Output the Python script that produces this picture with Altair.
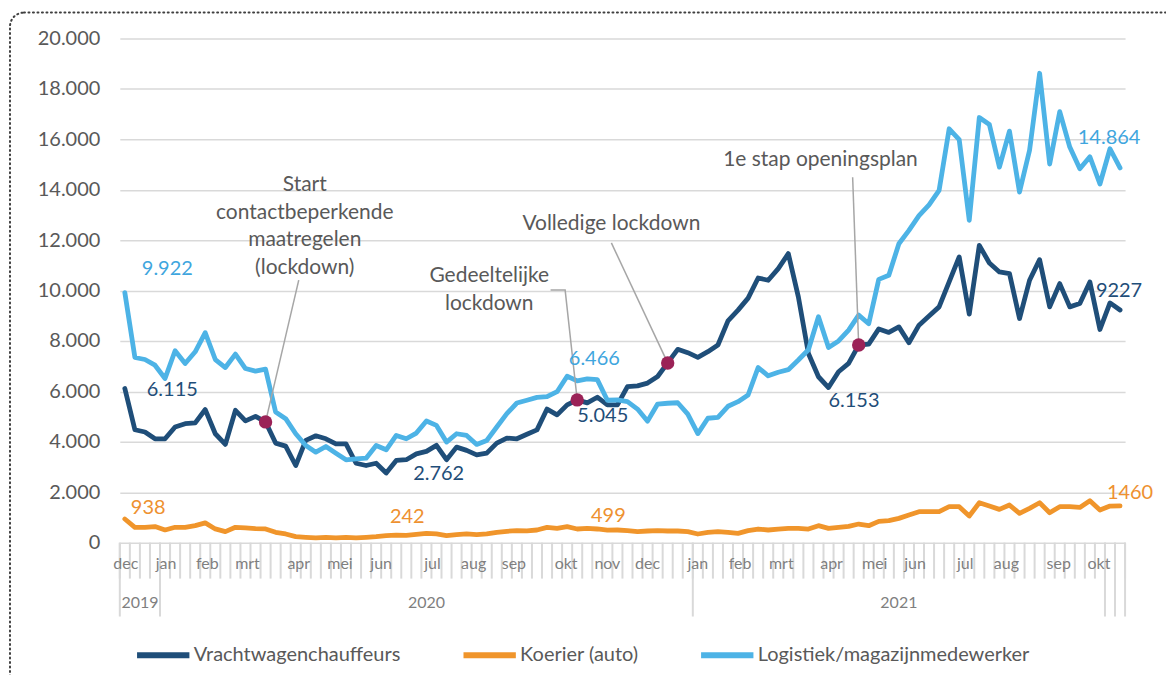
import altair as alt
import pandas as pd

# ---------------- data ----------------
N = 100
WEEK = list(range(N))
SERIES = ["Vrachtwagenchauffeurs", "Koerier (auto)", "Logistiek/magazijnmedewerker"]
COLORS = ["#1F4E79", "#F0952B", "#4DB3E6"]

VRACHT = [6115, 4480, 4390, 4120, 4120, 4590, 4720, 4750, 5280, 4320,
          3900, 5250, 4830, 5010, 4790, 3950, 3830, 3060, 4060, 4240,
          4120, 3920, 3920, 3150, 3060, 3150, 2762, 3260, 3290, 3520,
          3620, 3860, 3290, 3790, 3660, 3480, 3550, 3950, 4150, 4120,
          4300, 4475, 5300, 5069, 5465, 5663, 5544, 5770, 5465, 5465,
          6190, 6220, 6330, 6590, 7130, 7670, 7536, 7353, 7576, 7841,
          8800, 9225, 9700, 10500, 10410, 10870, 11466, 9750, 7506, 6582,
          6153, 6780, 7110, 7840, 7875, 8480, 8340, 8560, 7930, 8628,
          8990, 9354, 10344, 11334, 9064, 11796, 11096, 10740, 10674, 8892,
          10410, 11228, 9354, 10278, 9354, 9486, 10344, 8456, 9512, 9227]

KOERIER = [938, 610, 610, 637, 504, 610, 610, 677, 783, 544,
           438, 610, 584, 557, 544, 411, 345, 239, 212, 186,
           212, 186, 212, 186, 212, 239, 279, 300, 290, 330,
           372, 345, 279, 318, 345, 318, 345, 411, 451, 478,
           470, 502, 608, 568, 634, 542, 568, 542, 499, 502,
           475, 436, 462, 475, 462, 462, 436, 343, 409, 436,
           409, 370, 475, 541, 502, 541, 568, 568, 541, 673,
           568, 607, 647, 739, 673, 845, 871, 964, 1096, 1228,
           1228, 1228, 1426, 1426, 1056, 1584, 1452, 1320, 1492, 1162,
           1360, 1584, 1188, 1426, 1426, 1399, 1663, 1294, 1452, 1460]

LOGISTIEK = [9922, 7346, 7266, 7040, 6510, 7611, 7107, 7572, 8328, 7266,
             6948, 7479, 6908, 6802, 6882, 5183, 4918, 4320, 3856, 3590,
             3816, 3551, 3285, 3325, 3352, 3856, 3684, 4254, 4121, 4347,
             4825, 4652, 3989, 4320, 4254, 3896, 4055, 4586, 5117, 5541,
             5650, 5765, 5791, 5989, 6600, 6420, 6500, 6466, 5650, 5660,
             5595, 5300, 4820, 5500, 5530, 5550, 5100, 4327, 4935, 4968,
             5410, 5594, 5858, 6947, 6618, 6762, 6862, 7245, 7654, 8960,
             7740, 8004, 8433, 9027, 8684, 10446, 10608, 11860, 12390, 12970,
             13400, 13976, 16419, 15990, 12788, 16866, 16590, 14899, 16325, 13910,
             15570, 18622, 15020, 17098, 15692, 14835, 15310, 14228, 15627, 14864]

Y_TICKS = list(range(0, 20001, 2000))

MONTHS = ["dec", "jan", "feb", "mrt", "apr", "mei", "jun", "jul", "aug", "sep", "okt", "nov",
          "dec", "jan", "feb", "mrt", "apr", "mei", "jun", "jul", "aug", "sep", "okt"]
MONTH_WEEK = [0.1, 4.1, 8.2, 12.2, 17.3, 21.4, 25.5, 30.6, 34.7, 38.7, 43.9, 48,
              52, 57, 61.2, 65.3, 70.3, 74.6, 78.6, 83.6, 87.7, 92.9, 96.9]
YEARS = ["2019", "2020", "2021"]
YEAR_CENTER = [1.5, 30, 77]
YEAR_BOUNDS = [-0.5, 3.5, 56.5, 97.5, 98.5, 99.5]

MARKER_WEEKS = [14, 45, 54, 73]
ANNOT_TEXT = ["Start\ncontactbeperkende\nmaatregelen\n(lockdown)",
              "Gedeeltelijke\nlockdown", "Volledige lockdown", "1e stap openingsplan"]
ANNOT_WEEK = [17.9, 36.25, 48.4, 69.2]
ANNOT_VALUE = [14177, 10573, 12632, 15167]   # centre of the first text line
LEADER_ID = [0, 1, 1, 2, 3]
LEADER_WEEK = [17.3, 42.35, 43.8, 48.4, 72.4]
LEADER_VALUE = [10415, 10020, 10020, 11892, 14494]

# ---------------- helpers ----------------
W, H = 1007, 505
FONT = "Lato"
GREY = "#595959"
xs = alt.Scale(domain=[-0.5, N - 0.5], nice=False, zero=False)
ys = alt.Scale(domain=[0, 20000], nice=False)

YAXIS = dict(values=Y_TICKS, labelExpr="replace(format(datum.value, ','), ',', '.')",
             grid=True, gridColor="#D9D9D9", gridWidth=1.5, domain=False, ticks=False,
             labelFontSize=20, labelFont=FONT, labelColor=GREY, labelPadding=20, title=None)


def X(field):
    return alt.X(field, scale=xs, axis=None)


def Y(field):
    return alt.Y(field, scale=ys, axis=alt.Axis(**YAXIS))


long_df = pd.DataFrame({
    "week": WEEK * 3,
    "serie": [SERIES[0]] * N + [SERIES[1]] * N + [SERIES[2]] * N,
    "waarde": VRACHT + KOERIER + LOGISTIEK,
})

color = alt.Color("serie:N", scale=alt.Scale(domain=SERIES, range=COLORS),
                  legend=alt.Legend(orient="none", legendX=14, legendY=588, direction="horizontal",
                                    title=None, symbolType="stroke", symbolStrokeWidth=6,
                                    symbolSize=2750, labelFontSize=20, labelFont=FONT,
                                    labelColor=GREY, columnPadding=50, labelOffset=1,
                                    labelLimit=600))


def series_layer(name):
    return alt.Chart(long_df).transform_filter(alt.datum.serie == name).mark_line(
        strokeWidth=4.8, strokeJoin="round", strokeCap="round").encode(
        x=X("week:Q"), y=Y("waarde:Q"), color=color)


def point_label(values, idx, text, col, dx, dy, align="left"):
    df = pd.DataFrame({"week": [idx], "waarde": [values[idx]], "tekst": [text]})
    return alt.Chart(df).mark_text(align=align, baseline="middle", dx=dx, dy=dy, fontSize=20,
                                   font=FONT, color=col).encode(
        x=X("week:Q"), y=Y("waarde:Q"), text="tekst:N")


LB, DB, OR = "#3FA6DE", "#1F4E79", "#EE9130"
labels = [
    point_label(LOGISTIEK, 0, "9.922", LB, 17, -24),
    point_label(VRACHT, 0, "6.115", DB, 22, 1),
    point_label(KOERIER, 0, "938", OR, 6, -11),
    point_label(VRACHT, 26, "2.762", DB, 27, 1),
    point_label(KOERIER, 28, "242", OR, 1, -18, "center"),
    point_label(LOGISTIEK, 47, "6.466", LB, -3, -21, "center"),
    point_label(VRACHT, 45, "5.045", DB, 0, 16),
    point_label(KOERIER, 48, "499", OR, 1, -14, "center"),
    point_label(VRACHT, 70, "6.153", DB, 0, 13),
    point_label(LOGISTIEK, 99, "14.864", LB, -11, -30, "center"),
    point_label(VRACHT, 99, "9227", DB, -1, -19, "center"),
    point_label(KOERIER, 99, "1460", OR, 10, -13, "center"),
]

mk_df = pd.DataFrame({"week": MARKER_WEEKS, "waarde": [VRACHT[w] for w in MARKER_WEEKS]})
markers = alt.Chart(mk_df).mark_circle(size=180, color="#9B2257", opacity=1).encode(
    x=X("week:Q"), y=Y("waarde:Q"))

rows = []
for k, (i, w, v) in enumerate(zip(LEADER_ID, LEADER_WEEK, LEADER_VALUE)):
    rows.append({"id": i, "ord": k, "week": w, "waarde": v})
for i, m in enumerate(MARKER_WEEKS):
    rows.append({"id": i, "ord": 100 + i, "week": m, "waarde": VRACHT[m]})
leaders = alt.Chart(pd.DataFrame(rows)).mark_line(color="#A6A6A6", strokeWidth=1.5).encode(
    x=X("week:Q"), y=Y("waarde:Q"), detail="id:N", order="ord:Q")

ann_df = pd.DataFrame({"week": ANNOT_WEEK, "waarde": ANNOT_VALUE, "tekst": ANNOT_TEXT})
annots = alt.Chart(ann_df).mark_text(align="center", baseline="middle", lineBreak="\n",
                                     lineHeight=27.5, fontSize=21, font=FONT, color=GREY).encode(
    x=X("week:Q"), y=Y("waarde:Q"), text="tekst:N")

# category axis (weeks, months, years)
tick_df = pd.DataFrame({"b": [i - 0.5 for i in range(N + 1)]})
week_ticks = alt.Chart(tick_df).mark_rule(color="#D9D9D9", strokeWidth=2).encode(
    x=X("b:Q"), y=alt.value(H), y2=alt.value(H + 36))
year_df = pd.DataFrame({"b": YEAR_BOUNDS})
year_ticks = alt.Chart(year_df).mark_rule(color="#D9D9D9", strokeWidth=2).encode(
    x=X("b:Q"), y=alt.value(H), y2=alt.value(H + 74))
month_df = pd.DataFrame({"pos": MONTH_WEEK, "m": MONTHS})
month_lbl = alt.Chart(month_df).mark_text(fontSize=16, font=FONT, color="#7F7F7F",
                                          baseline="middle", align="center").encode(
    x=X("pos:Q"), y=alt.value(H + 21), text="m:N")
yr_df = pd.DataFrame({"pos": YEAR_CENTER, "j": YEARS})
year_lbl = alt.Chart(yr_df).mark_text(fontSize=16, font=FONT, color="#7F7F7F",
                                      baseline="middle", align="center").encode(
    x=X("pos:Q"), y=alt.value(H + 60), text="j:N")

border = alt.Chart(pd.DataFrame({"k": [0]})).mark_rect(
    fillOpacity=0, stroke="#404040", strokeWidth=2, strokeDash=[1, 3.5], strokeCap="round",
    cornerRadius=14).encode(x=alt.value(-110), x2=alt.value(1090), y=alt.value(-26), y2=alt.value(700))

chart = alt.layer(
    series_layer(SERIES[1]), series_layer(SERIES[0]), series_layer(SERIES[2]),
    border, week_ticks, year_ticks, month_lbl, year_lbl,
    leaders, markers, annots, *labels
).properties(
    width=W, height=H,
    autosize=alt.AutoSizeParams(type="none"),
    padding={"left": 112, "top": 30, "right": 41, "bottom": 132},
    background="white",
).configure_view(stroke=None)

chart.save("out.html", embed_options={"renderer": "svg", "actions": False})
